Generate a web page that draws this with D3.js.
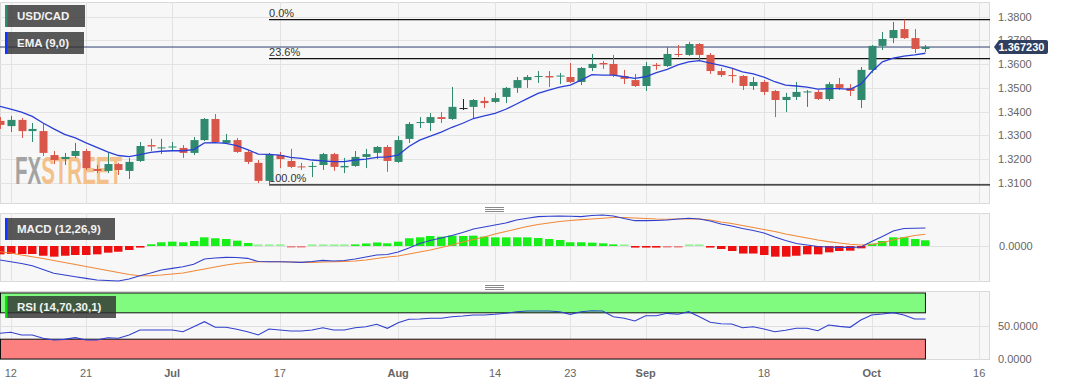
<!DOCTYPE html>
<html><head><meta charset="utf-8">
<script src="https://cdn.jsdelivr.net/npm/d3@7"></script>
<style>html,body{margin:0;padding:0;background:#fff;overflow:hidden}svg{display:block;font-family:"Liberation Sans",Arial,sans-serif}</style>
</head><body><svg id="c" width="1067" height="386"></svg>
<script>
// ---------- DATA ----------
const open  = [1.3361,1.3339,1.3365,1.3318,1.3318,1.3217,1.3200,1.3213,1.3234,1.3158,1.3150,1.3179,1.3150,1.3192,1.3259,1.3245,1.3249,1.3247,1.3226,1.3280,1.3369,1.3268,1.3280,1.3230,1.3184,1.3108,1.3217,1.3192,1.3169,1.3167,1.3175,1.3221,1.3165,1.3171,1.3209,1.3226,1.3251,1.3188,1.3285,1.3352,1.3352,1.3377,1.3369,1.3415,1.3420,1.3445,1.3441,1.3462,1.3500,1.3533,1.3546,1.3550,1.3548,1.3546,1.3525,1.3584,1.3605,1.3601,1.3550,1.3533,1.3508,1.3597,1.3592,1.3643,1.3639,1.3685,1.3639,1.3571,1.3554,1.3550,1.3508,1.3525,1.3487,1.3449,1.3462,1.3481,1.3483,1.3453,1.3516,1.3500,1.3449,1.3576,1.3677,1.3710,1.3748,1.3710,1.3664];
const high  = [1.3377,1.3382,1.3373,1.3352,1.3348,1.3234,1.3226,1.3268,1.3243,1.3175,1.3226,1.3184,1.3205,1.3272,1.3285,1.3285,1.3272,1.3259,1.3293,1.3373,1.3390,1.3306,1.3289,1.3238,1.3196,1.3226,1.3230,1.3243,1.3184,1.3188,1.3226,1.3226,1.3205,1.3234,1.3243,1.3255,1.3259,1.3297,1.3356,1.3377,1.3394,1.3398,1.3504,1.3453,1.3453,1.3462,1.3479,1.3504,1.3546,1.3554,1.3571,1.3571,1.3563,1.3605,1.3588,1.3643,1.3613,1.3639,1.3576,1.3559,1.3609,1.3605,1.3672,1.3681,1.3694,1.3689,1.3647,1.3584,1.3584,1.3554,1.3546,1.3533,1.3491,1.3479,1.3525,1.3491,1.3491,1.3525,1.3542,1.3516,1.3588,1.3681,1.3736,1.3778,1.3788,1.3748,1.3681];
const low   = [1.3327,1.3314,1.3289,1.3272,1.3213,1.3179,1.3175,1.3205,1.3154,1.3141,1.3141,1.3133,1.3116,1.3188,1.3234,1.3221,1.3238,1.3205,1.3217,1.3276,1.3268,1.3266,1.3226,1.3179,1.3099,1.3091,1.3162,1.3162,1.3154,1.3124,1.3154,1.3150,1.3141,1.3167,1.3162,1.3200,1.3146,1.3184,1.3268,1.3331,1.3318,1.3352,1.3365,1.3407,1.3373,1.3415,1.3436,1.3436,1.3479,1.3500,1.3521,1.3504,1.3516,1.3521,1.3512,1.3571,1.3580,1.3546,1.3516,1.3504,1.3487,1.3576,1.3588,1.3630,1.3635,1.3613,1.3559,1.3546,1.3521,1.3491,1.3491,1.3470,1.3377,1.3398,1.3449,1.3420,1.3449,1.3445,1.3491,1.3466,1.3415,1.3563,1.3660,1.3689,1.3706,1.3647,1.3651];
const close = [1.3344,1.3365,1.3318,1.3327,1.3226,1.3196,1.3209,1.3234,1.3162,1.3150,1.3179,1.3154,1.3188,1.3255,1.3253,1.3249,1.3253,1.3226,1.3280,1.3369,1.3272,1.3280,1.3230,1.3188,1.3108,1.3217,1.3200,1.3167,1.3165,1.3171,1.3221,1.3167,1.3171,1.3209,1.3221,1.3251,1.3192,1.3280,1.3348,1.3356,1.3377,1.3369,1.3420,1.3415,1.3449,1.3436,1.3457,1.3500,1.3533,1.3546,1.3550,1.3544,1.3552,1.3525,1.3584,1.3601,1.3599,1.3554,1.3538,1.3508,1.3592,1.3592,1.3643,1.3639,1.3685,1.3639,1.3571,1.3554,1.3550,1.3508,1.3525,1.3483,1.3449,1.3462,1.3483,1.3485,1.3453,1.3516,1.3500,1.3487,1.3576,1.3677,1.3706,1.3744,1.3710,1.3664,1.36723];
const ema9  = [1.3422,1.3411,1.3398,1.3380,1.3352,1.3327,1.3304,1.3289,1.3268,1.3249,1.3230,1.3215,1.3210,1.3219,1.3228,1.3233,1.3235,1.3235,1.3240,1.3268,1.3269,1.3266,1.3257,1.3240,1.3221,1.3220,1.3217,1.3207,1.3203,1.3196,1.3192,1.3189,1.3189,1.3196,1.3200,1.3207,1.3209,1.3217,1.3253,1.3280,1.3297,1.3314,1.3334,1.3351,1.3371,1.3382,1.3393,1.3410,1.3432,1.3455,1.3477,1.3491,1.3503,1.3512,1.3533,1.3556,1.3554,1.3554,1.3547,1.3540,1.3547,1.3564,1.3578,1.3597,1.3610,1.3615,1.3604,1.3595,1.3583,1.3568,1.3559,1.3545,1.3526,1.3512,1.3508,1.3503,1.3495,1.3497,1.3497,1.3494,1.3516,1.3568,1.3610,1.3625,1.3634,1.3639,1.3646];
const macdLine = [-0.0021,-0.00236,-0.00263,-0.00296,-0.00353,-0.0041,-0.00435,-0.00461,-0.00485,-0.0051,-0.00518,-0.00525,-0.00495,-0.00446,-0.00405,-0.0036,-0.00335,-0.00311,-0.00275,-0.00195,-0.0018,-0.0017,-0.00173,-0.00185,-0.00233,-0.00236,-0.00236,-0.0024,-0.00245,-0.00233,-0.00215,-0.00225,-0.00218,-0.00195,-0.00165,-0.00135,-0.00128,-0.0009,-0.0003,0.00038,0.00083,0.0012,0.00158,0.00203,0.00255,0.00285,0.00315,0.00345,0.0039,0.00416,0.0044,0.00446,0.0045,0.00446,0.0044,0.00458,0.00465,0.0045,0.00413,0.0038,0.0038,0.00383,0.0039,0.00405,0.00416,0.00405,0.00375,0.0033,0.003,0.00263,0.00233,0.00195,0.00135,0.00083,0.00038,0.00015,-0.00008,-0.00015,-0.0002,-0.0002,-0.00015,0.00068,0.00143,0.00225,0.00263,0.00267,0.0027];
const signalLine = [-0.00086,-0.00105,-0.00135,-0.00161,-0.00188,-0.00218,-0.00248,-0.00278,-0.00308,-0.00338,-0.00368,-0.00398,-0.00428,-0.00446,-0.00446,-0.00435,-0.0042,-0.00405,-0.00375,-0.00345,-0.00315,-0.00285,-0.00263,-0.00248,-0.00237,-0.00236,-0.00236,-0.0024,-0.00245,-0.00245,-0.0024,-0.00236,-0.0023,-0.00225,-0.0021,-0.00188,-0.00165,-0.0015,-0.0012,-0.0009,-0.0006,-0.00023,0.00015,0.0006,0.00098,0.00135,0.0018,0.00218,0.00255,0.00293,0.00323,0.00345,0.00368,0.00383,0.00395,0.00405,0.00416,0.00428,0.00428,0.0042,0.00413,0.00405,0.00402,0.00405,0.00405,0.00405,0.0039,0.0036,0.00338,0.00308,0.00278,0.00248,0.00218,0.0018,0.0015,0.0012,0.0009,0.00065,0.00045,0.00026,0.00015,0.00023,0.00053,0.0009,0.00128,0.00158,0.00176];
const macdHist = [-0.00125,-0.0012,-0.0012,-0.0012,-0.00146,-0.0016,-0.00146,-0.00135,-0.00135,-0.00125,-0.001,-0.00086,-0.0006,-0.0001,0.00026,0.00056,0.00065,0.00056,0.00075,0.0013,0.00116,0.00105,0.0008,0.00045,0.00008,0.00008,0.00008,-0.00005,-0.00005,0.00008,0.00008,0.00008,0.00008,0.00015,0.00038,0.00053,0.0004,0.00065,0.00116,0.0013,0.0015,0.0014,0.00155,0.0015,0.00155,0.0014,0.0013,0.0013,0.0013,0.0013,0.0012,0.00105,0.0009,0.00056,0.00056,0.0005,0.0004,0.00015,0.00005,-0.00023,-0.00023,-0.0002,-0.00005,-0.00003,0.00005,0.00005,-0.00023,-0.00045,-0.00075,-0.00113,-0.00113,-0.00135,-0.0016,-0.0016,-0.00146,-0.00125,-0.00125,-0.00095,-0.00075,-0.0007,-0.00035,0.00035,0.00075,0.0013,0.0013,0.00105,0.00086];
const rsi14 = [38.9,40.5,36.4,36.4,31.4,28.8,29.8,32.3,28.8,28.8,32.3,31.4,36.4,43.9,43.9,43.9,43.9,41.4,48.9,56.5,48.0,48.0,45.0,41.4,36.4,45.5,43.9,42.4,42.4,43.9,47.4,43.9,43.9,47.4,48.9,52.6,46.5,55.0,60.2,60.6,61.7,61.7,64.1,65.2,66.7,66.7,67.7,69.2,71.7,72.7,72.7,72.7,71.7,67.7,71.7,73.2,72.7,64.1,61.7,57.6,65.6,65.6,69.2,67.7,71.7,64.1,55.6,53.5,53.0,47.4,48.9,45.5,41.4,43.5,46.5,46.5,42.9,51.5,49.5,48.0,59.1,66.7,68.2,70.2,66.7,60.6,60.6];
const priceTicks = [1.31,1.32,1.33,1.34,1.35,1.36,1.37,1.38];
const macdTicks = [0];
const rsiTicks = [0,50];
const tickIndex  = [1,8,16,26,37,46,53,60,71,81,91];
const tickLabels = ["12","21","Jul","17","Aug","14","23","Sep","18","Oct","16"];
const tickBold   = [false,false,true,false,true,false,false,true,false,true,false];
const fibRatios = [0,0.236,1];
const fibLabels = ["0.0%","23.6%","100.0%"];
const lastPrice = 1.36723;
const rsiUpper = 70, rsiLower = 30;

// ---------- LAYOUT ----------
const W = 990;
const svg = d3.select("#c");
const x = d3.scaleLinear().domain([0,92]).range([0,W]);
const yM = d3.scaleLinear().domain([1.30085,1.38705]).range([204.5,0]);
const yD = d3.scaleLinear().domain([-0.0054,0.00495]).range([282,213]);
const yR = d3.scaleLinear().domain([0,100]).range([359,293]);
const panels = [{t:2,b:204,id:"pm"},{t:213,b:282,id:"pd"},{t:291,b:360,id:"pr"}];

const defs = svg.append("defs");
panels.forEach(p=>{
  defs.append("clipPath").attr("id",p.id).append("rect").attr("x",0).attr("y",p.t).attr("width",W).attr("height",p.b-p.t);
  svg.append("rect").attr("x",0.5).attr("y",p.t+0.5).attr("width",W-1).attr("height",p.b-p.t-1)
    .attr("fill","#f7f7f7").attr("stroke","#d9d9d9");
  const g = svg.append("g").attr("clip-path",`url(#${p.id})`);
  g.selectAll("line.v").data(tickIndex).join("line")
    .attr("x1",d=>Math.round(x(d))+0.5).attr("x2",d=>Math.round(x(d))+0.5)
    .attr("y1",p.t).attr("y2",p.b).attr("stroke","#e3e3e3");
  p.g = g;
});

// ---------- MAIN PANEL ----------
const gm = panels[0].g;
gm.selectAll("line.h").data(priceTicks).join("line")
  .attr("x1",0).attr("x2",W).attr("y1",d=>Math.round(yM(d))+0.5).attr("y2",d=>Math.round(yM(d))+0.5)
  .attr("stroke","#e3e3e3");

// watermark
const wm = gm.append("text").attr("x",15).attr("y",184).attr("font-size",38).attr("font-weight","bold")
  .attr("textLength",107).attr("lengthAdjust","spacingAndGlyphs");
wm.append("tspan").attr("fill","#a3a3a3").text("FX");
wm.append("tspan").attr("fill","#f3c08a").text("STREET");

// fibonacci
const hi = d3.max(high), lo = d3.min(low), loIdx = low.indexOf(lo);
fibRatios.forEach((r,k)=>{
  const p = hi - r*(hi-lo);
  gm.append("line").attr("x1",x(loIdx)).attr("x2",W).attr("y1",yM(p)).attr("y2",yM(p))
    .attr("stroke","#111").attr("stroke-width",1.3);
  gm.append("text").attr("x",x(loIdx)).attr("y",yM(p)-3).attr("font-size",11).attr("fill","#333").text(fibLabels[k]);
});

// last price line
gm.append("line").attr("x1",0).attr("x2",W).attr("y1",yM(lastPrice)).attr("y2",yM(lastPrice))
  .attr("stroke","#2e4170").attr("stroke-width",1);

// candles
const UP="#2f8a6e", DN="#d9574a";
const col = i => close[i]>open[i]?UP:(close[i]<open[i]?DN:"#222");
const idx = d3.range(open.length);
gm.selectAll("line.w").data(idx).join("line")
  .attr("x1",i=>Math.round(x(i))+0.5).attr("x2",i=>Math.round(x(i))+0.5)
  .attr("y1",i=>yM(high[i])).attr("y2",i=>yM(low[i])).attr("stroke",col).attr("stroke-width",1);
gm.selectAll("rect.b").data(idx).join("rect")
  .attr("x",i=>Math.round(x(i))-3.5).attr("width",8)
  .attr("y",i=>yM(Math.max(open[i],close[i])))
  .attr("height",i=>Math.max(1,Math.abs(yM(open[i])-yM(close[i]))))
  .attr("fill",col);

// EMA
gm.append("path").datum(ema9).attr("fill","none").attr("stroke","#2b3fd6").attr("stroke-width",1.3)
  .attr("d",d3.line().x((d,i)=>x(i)).y(d=>yM(d)));

// ---------- MACD PANEL ----------
const gd = panels[1].g;
gd.append("line").attr("x1",0).attr("x2",W).attr("y1",Math.round(yD(0))+0.5).attr("y2",Math.round(yD(0))+0.5).attr("stroke","#e0e0e0");
const hH = i => Math.max(1.6, Math.abs(yD(macdHist[i])-yD(0)));
gd.selectAll("rect.h").data(idx).join("rect")
  .attr("x",i=>Math.round(x(i))-4).attr("width",8.5)
  .attr("y",i=>macdHist[i]>=0 ? yD(0)-hH(i) : yD(0))
  .attr("height",hH)
  .attr("fill",i=>macdHist[i]>=0?"#18ee18":"#ee1010")
  .attr("opacity",i=>Math.abs(macdHist[i])<0.0001?0.45:1);
gd.append("path").datum(signalLine).attr("fill","none").attr("stroke","#f0893a").attr("stroke-width",1.1)
  .attr("d",d3.line().x((d,i)=>x(i)).y(d=>yD(d)));
gd.append("path").datum(macdLine).attr("fill","none").attr("stroke","#3140cc").attr("stroke-width",1.1)
  .attr("d",d3.line().x((d,i)=>x(i)).y(d=>yD(d)));

// ---------- RSI PANEL ----------
const gr = panels[2].g;
gr.append("line").attr("x1",0).attr("x2",W).attr("y1",Math.round(yR(50))+0.5).attr("y2",Math.round(yR(50))+0.5).attr("stroke","#e0e0e0");
const zEnd = x(open.length-1);
gr.append("rect").attr("x",0.5).attr("y",yR(100)).attr("width",zEnd-0.5).attr("height",yR(rsiUpper)-yR(100))
  .attr("fill","#80fb80").attr("stroke","#111").attr("stroke-width",1);
gr.append("rect").attr("x",0.5).attr("y",yR(rsiLower)).attr("width",zEnd-0.5).attr("height",yR(0)-yR(rsiLower))
  .attr("fill","#fd8080").attr("stroke","#111").attr("stroke-width",1);
gr.append("path").datum(rsi14).attr("fill","none").attr("stroke","#3140cc").attr("stroke-width",1.1)
  .attr("d",d3.line().x((d,i)=>x(i)).y(d=>yR(d)));

// ---------- AXES ----------
const axTxt = {size:11, fill:"#666"};
svg.selectAll("text.py").data(priceTicks).join("text").attr("x",998).attr("y",d=>yM(d)+4)
  .attr("font-size",axTxt.size).attr("fill",axTxt.fill).text(d=>d.toFixed(4));
svg.selectAll("text.my").data(macdTicks).join("text").attr("x",999).attr("y",d=>yD(d)+4)
  .attr("font-size",axTxt.size).attr("fill",axTxt.fill).text(d=>d.toFixed(4));
svg.selectAll("text.ry").data(rsiTicks).join("text").attr("x",998).attr("y",d=>yR(d)+4)
  .attr("font-size",axTxt.size).attr("fill",axTxt.fill).text(d=>d.toFixed(4));
svg.selectAll("text.xt").data(tickIndex).join("text").attr("x",d=>x(d)).attr("y",377)
  .attr("text-anchor","middle").attr("font-size",axTxt.size).attr("fill",axTxt.fill)
  .attr("font-weight",(d,k)=>tickBold[k]?"bold":"normal").text((d,k)=>tickLabels[k]);

// last price badge
const by = yM(lastPrice);
svg.append("path").attr("fill","#2f3f60")
  .attr("d",`M994,${by} L999,${by-7} L1046,${by-7} Q1048,${by-7} 1048,${by-5} L1048,${by+5} Q1048,${by+7} 1046,${by+7} L999,${by+7} Z`);
svg.append("text").attr("x",998.5).attr("y",by+4).attr("font-size",11).attr("font-weight","bold").attr("fill","#fff").text(lastPrice.toFixed(6));

// ---------- LEGENDS ----------
const legends = [
  {label:"USD/CAD", y:5, w:80, c:"#2f8a6e"},
  {label:"EMA (9,0)", y:32, w:79, c:"#1434ff"},
  {label:"MACD (12,26,9)", y:218, w:110, c:"#1434ff"},
  {label:"RSI (14,70,30,1)", y:296, w:111, c:"#10dd10"}
];
legends.forEach(l=>{
  svg.append("rect").attr("x",5).attr("y",l.y).attr("width",l.w).attr("height",22).attr("fill","rgba(48,48,48,0.8)");
  svg.append("rect").attr("x",5).attr("y",l.y).attr("width",2.5).attr("height",22).attr("fill",l.c);
  svg.append("text").attr("x",17).attr("y",l.y+15).attr("font-size",11.5).attr("font-weight","bold").attr("fill","#f2f2f2").text(l.label);
});

// panel resize handles
[207,285].forEach(y0=>{
  [0,2,4].forEach(o=>svg.append("line").attr("x1",485).attr("x2",504).attr("y1",y0+o+0.5).attr("y2",y0+o+0.5).attr("stroke","#8a8a8a"));
});
</script></body></html>
